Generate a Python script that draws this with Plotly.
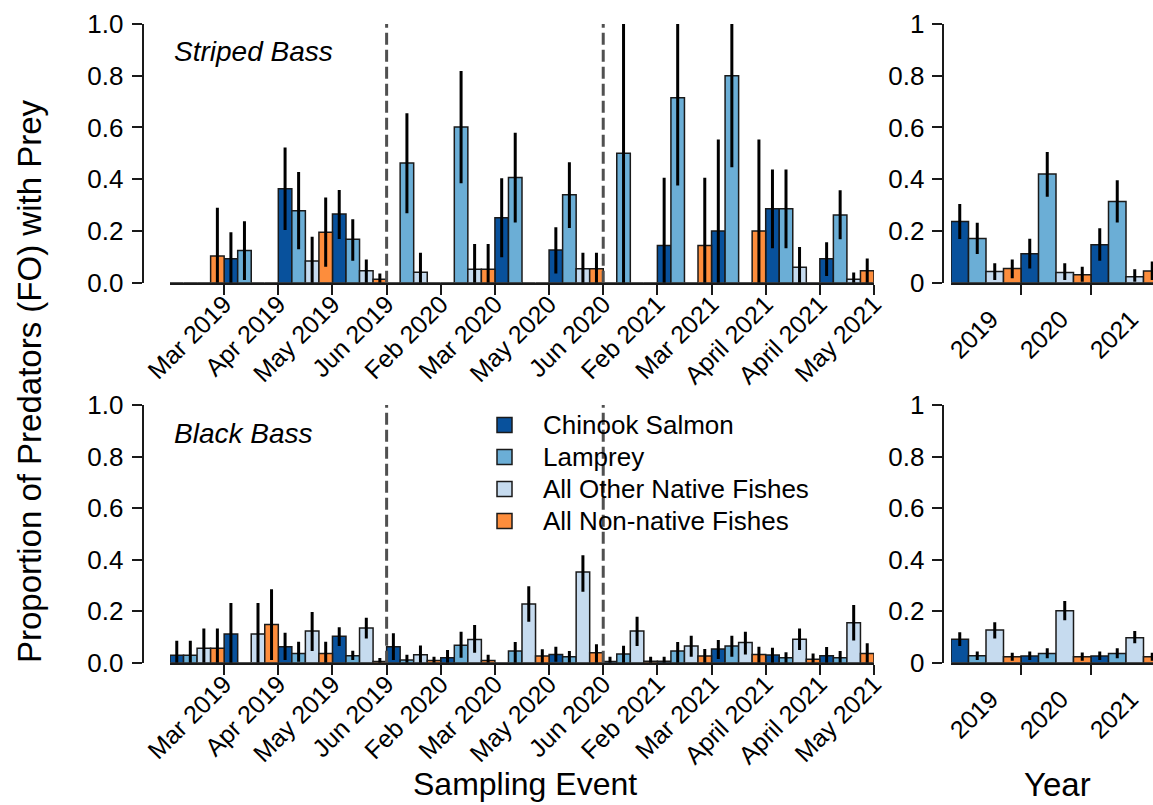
import plotly.graph_objects as go

# ---------------- data ----------------
events = ["Mar 2019", "Apr 2019", "May 2019", "Jun 2019", "Feb 2020", "Mar 2020",
          "May 2020", "Jun 2020", "Feb 2021", "Mar 2021", "April 2021", "April 2021", "May 2021"]
years = ["2019", "2020", "2021"]
categories = ["Chinook Salmon", "Lamprey", "All Other Native Fishes", "All Non-native Fishes"]
colors = ["#08519c", "#6baed6", "#c6dbef", "#fd8d3c"]

# Striped Bass, by sampling event (FO, lower CI, upper CI)
sb_chinook = [0, 0.093, 0.363, 0.266, 0, 0, 0.251, 0.126, 0, 0.144, 0.200, 0.286, 0.093]
sb_chinook_lo = [0, 0, 0.204, 0.169, 0, 0, 0.098, 0.036, 0, 0, 0, 0.133, 0.026]
sb_chinook_hi = [0, 0.195, 0.523, 0.358, 0, 0, 0.404, 0.214, 0, 0.406, 0.554, 0.438, 0.156]
sb_lamprey = [0, 0.124, 0.278, 0.168, 0.463, 0.602, 0.407, 0.340, 0.500, 0.715, 0.800, 0.286, 0.262]
sb_lamprey_lo = [0, 0.010, 0.129, 0.085, 0.268, 0.384, 0.233, 0.211, 0, 0.376, 0.446, 0.133, 0.168]
sb_lamprey_hi = [0, 0.238, 0.428, 0.245, 0.655, 0.818, 0.580, 0.466, 1.0, 1.0, 1.0, 0.438, 0.357]
sb_other = [0, 0, 0.084, 0.046, 0.040, 0.052, 0, 0.054, 0, 0, 0, 0.060, 0.013]
sb_other_lo = [0, 0, 0, 0, 0, 0, 0, 0, 0, 0, 0, 0, 0]
sb_other_hi = [0, 0, 0.178, 0.090, 0.116, 0.150, 0, 0.116, 0, 0, 0, 0.138, 0.039]
sb_nonnative = [0.103, 0, 0.195, 0.013, 0, 0.052, 0, 0.054, 0, 0.144, 0.200, 0, 0.046]
sb_nonnative_lo = [0, 0, 0.062, 0, 0, 0, 0, 0, 0, 0, 0, 0, 0]
sb_nonnative_hi = [0.290, 0, 0.329, 0.036, 0, 0.150, 0, 0.116, 0, 0.406, 0.554, 0, 0.094]

# Black Bass, by sampling event
bb_chinook = [0.029, 0.111, 0.062, 0.103, 0.062, 0.019, 0, 0.032, 0.005, 0.006, 0.053, 0.030, 0.027]
bb_chinook_lo = [0, 0, 0.010, 0.065, 0.010, 0, 0, 0.004, 0, 0, 0.014, 0, 0]
bb_chinook_hi = [0.085, 0.232, 0.116, 0.138, 0.114, 0.049, 0, 0.062, 0.023, 0.023, 0.088, 0.058, 0.061]
bb_lamprey = [0.029, 0, 0.036, 0.027, 0.010, 0.068, 0.045, 0.023, 0.034, 0.045, 0.065, 0.019, 0.019]
bb_lamprey_lo = [0, 0, 0.004, 0.010, 0, 0.019, 0, 0, 0, 0, 0.023, 0, 0]
bb_lamprey_hi = [0.085, 0, 0.081, 0.046, 0.031, 0.120, 0.080, 0.045, 0.066, 0.080, 0.105, 0.041, 0.045]
bb_other = [0.056, 0.111, 0.123, 0.135, 0.031, 0.090, 0.228, 0.352, 0.123, 0.065, 0.078, 0.091, 0.155]
bb_other_lo = [0, 0, 0.045, 0.094, 0, 0.039, 0.159, 0.275, 0.065, 0.023, 0.032, 0.049, 0.086]
bb_other_hi = [0.133, 0.232, 0.197, 0.174, 0.067, 0.146, 0.297, 0.417, 0.178, 0.105, 0.120, 0.133, 0.224]
bb_nonnative = [0.056, 0.148, 0.036, 0.005, 0.009, 0.009, 0.026, 0.039, 0.006, 0.026, 0.032, 0.013, 0.036]
bb_nonnative_lo = [0, 0.010, 0, 0, 0, 0, 0, 0, 0, 0, 0, 0, 0]
bb_nonnative_hi = [0.133, 0.285, 0.081, 0.018, 0.023, 0.031, 0.052, 0.072, 0.023, 0.053, 0.062, 0.036, 0.075]

# Striped Bass, by year
sby_chinook = [0.237, 0.112, 0.147]
sby_chinook_lo = [0.169, 0.055, 0.085]
sby_chinook_hi = [0.304, 0.170, 0.210]
sby_lamprey = [0.171, 0.420, 0.314]
sby_lamprey_lo = [0.111, 0.332, 0.233]
sby_lamprey_hi = [0.232, 0.505, 0.396]
sby_other = [0.043, 0.039, 0.023]
sby_other_lo = [0.010, 0.010, 0.004]
sby_other_hi = [0.075, 0.075, 0.052]
sby_nonnative = [0.055, 0.031, 0.045]
sby_nonnative_lo = [0.017, 0.004, 0.010]
sby_nonnative_hi = [0.090, 0.062, 0.082]

# Black Bass, by year
bby_chinook = [0.091, 0.026, 0.026]
bby_chinook_lo = [0.065, 0.010, 0.010]
bby_chinook_hi = [0.118, 0.043, 0.043]
bby_lamprey = [0.027, 0.036, 0.036]
bby_lamprey_lo = [0.010, 0.017, 0.017]
bby_lamprey_hi = [0.043, 0.056, 0.056]
bby_other = [0.127, 0.202, 0.097]
bby_other_lo = [0.094, 0.165, 0.075]
bby_other_hi = [0.157, 0.239, 0.123]
bby_nonnative = [0.023, 0.023, 0.023]
bby_nonnative_lo = [0.008, 0.008, 0.008]
bby_nonnative_hi = [0.039, 0.040, 0.039]

panels = [
    ("x", "y", [(sb_chinook, sb_chinook_lo, sb_chinook_hi), (sb_lamprey, sb_lamprey_lo, sb_lamprey_hi),
                (sb_other, sb_other_lo, sb_other_hi), (sb_nonnative, sb_nonnative_lo, sb_nonnative_hi)]),
    ("x2", "y2", [(bb_chinook, bb_chinook_lo, bb_chinook_hi), (bb_lamprey, bb_lamprey_lo, bb_lamprey_hi),
                  (bb_other, bb_other_lo, bb_other_hi), (bb_nonnative, bb_nonnative_lo, bb_nonnative_hi)]),
    ("x3", "y3", [(sby_chinook, sby_chinook_lo, sby_chinook_hi), (sby_lamprey, sby_lamprey_lo, sby_lamprey_hi),
                  (sby_other, sby_other_lo, sby_other_hi), (sby_nonnative, sby_nonnative_lo, sby_nonnative_hi)]),
    ("x4", "y4", [(bby_chinook, bby_chinook_lo, bby_chinook_hi), (bby_lamprey, bby_lamprey_lo, bby_lamprey_hi),
                  (bby_other, bby_other_lo, bby_other_hi), (bby_nonnative, bby_nonnative_lo, bby_nonnative_hi)]),
]

# ---------------- figure ----------------
W, H = 1153, 805
FONT = "Liberation Sans, Arial, Helvetica, sans-serif"
INK = "#1a1a1a"
NCAT = len(categories)


def fx(p):
    return p / W


def fy(p):
    return 1 - p / H


fig = go.Figure()
for xa, ya, series in panels:
    for ci, (vals, lo, hi) in enumerate(series):
        xs = [NCAT * g + ci + 0.5 for g in range(len(vals))]
        fig.add_trace(go.Bar(
            x=xs, y=vals, xaxis=xa, yaxis=ya, width=1, name=categories[ci], showlegend=False,
            marker=dict(color=colors[ci], line=dict(color=INK, width=1.5)),
            error_y=dict(type="data", symmetric=False,
                         array=[h - v for v, h in zip(vals, hi)],
                         arrayminus=[v - l for v, l in zip(vals, lo)],
                         color="black", thickness=3, width=0),
        ))

n_ev = len(events)
left_dom = [fx(170), fx(874)]
right_unit = 17.5
right_dom = [fx(951), 1.0]
top_dom = [fy(282.7), fy(24)]
bot_dom = [fy(662.7), fy(405)]

axis_common = dict(showgrid=False, zeroline=False, showline=True, linecolor=INK, linewidth=2,
                   ticks="outside", tickcolor=INK, tickwidth=2, fixedrange=True, automargin=False,
                   tickfont=dict(family=FONT, size=25, color="black"))

xleft = dict(axis_common, range=[0, NCAT * n_ev], domain=left_dom, tickmode="array",
             tickvals=[NCAT * (g + 1) for g in range(n_ev)], ticktext=events,
             tickangle=-45, ticklen=10, ticklabelstandoff=-15)
xright = dict(axis_common, range=[0, (W - 951) / right_unit], domain=right_dom, tickmode="array",
              tickvals=[NCAT * g + 2.29 for g in range(len(years))], ticktext=years,
              tickangle=-45, ticklen=25, tickcolor="rgba(0,0,0,0)", ticklabelstandoff=-15,
              minor=dict(tickmode="array", tickvals=[NCAT * (g + 1) for g in range(len(years) - 1)],
                         ticks="outside", ticklen=10, tickwidth=2, tickcolor=INK))
yticks = [0, 0.2, 0.4, 0.6, 0.8, 1.0]
yleft = dict(axis_common, range=[0, 1], anchor="free", position=fx(142.7), tickmode="array",
             tickvals=yticks, tickformat=".1f", ticklen=10, ticklabelstandoff=3,
             tickfont=dict(family=FONT, size=26, color="black"))
yright = dict(axis_common, range=[0, 1], anchor="free", position=fx(942.7), tickmode="array",
              tickvals=yticks, ticklen=10, ticklabelstandoff=2,
              tickfont=dict(family=FONT, size=26, color="black"))

fig.update_layout(
    width=W, height=H, margin=dict(l=0, r=0, t=0, b=0, autoexpand=False),
    paper_bgcolor="white", plot_bgcolor="white", barmode="overlay", showlegend=False,
    font=dict(family=FONT, color="black"),
    xaxis=dict(xleft, anchor="y"),
    yaxis=dict(yleft, domain=top_dom),
    xaxis2=dict(xleft, anchor="y2"),
    yaxis2=dict(yleft, domain=bot_dom),
    xaxis3=dict(xright, anchor="y3"),
    yaxis3=dict(yright, domain=top_dom),
    xaxis4=dict(xright, anchor="y4"),
    yaxis4=dict(yright, domain=bot_dom),
)

# dashed separators between years
shapes = []
for xr, yr in [("x", "y"), ("x2", "y2")]:
    for g in (4, 8):
        shapes.append(dict(type="line", xref=xr, yref=yr + " domain", x0=NCAT * g, x1=NCAT * g,
                           y0=0, y1=1, line=dict(color="#505050", width=3, dash="12px,5px")))

# manual legend
annotations = []
leg_rows = [425, 457, 489, 521]
for ci, cy in enumerate(leg_rows):
    shapes.append(dict(type="rect", xref="paper", yref="paper", x0=fx(497), x1=fx(512),
                       y0=fy(cy + 7.5), y1=fy(cy - 7.5),
                       fillcolor=colors[ci], line=dict(color=INK, width=1.5)))
    annotations.append(dict(text=categories[ci], xref="paper", yref="paper", x=fx(541), y=fy(cy),
                            xanchor="left", yanchor="middle", showarrow=False,
                            font=dict(family=FONT, size=26, color="black")))

annotations += [
    dict(text="<i>Striped Bass</i>", xref="paper", yref="paper", x=fx(172), y=fy(51),
         xanchor="left", yanchor="middle", showarrow=False, font=dict(family=FONT, size=28)),
    dict(text="<i>Black Bass</i>", xref="paper", yref="paper", x=fx(172), y=fy(433),
         xanchor="left", yanchor="middle", showarrow=False, font=dict(family=FONT, size=28)),
    dict(text="Proportion of Predators (FO) with Prey", xref="paper", yref="paper",
         x=fx(29), y=fy(381), textangle=-90, xanchor="center", yanchor="middle",
         showarrow=False, font=dict(family=FONT, size=33)),
    dict(text="Sampling Event", xref="paper", yref="paper", x=fx(525), y=fy(784),
         xanchor="center", yanchor="middle", showarrow=False, font=dict(family=FONT, size=32)),
    dict(text="Year", xref="paper", yref="paper", x=fx(1057), y=fy(784),
         xanchor="center", yanchor="middle", showarrow=False, font=dict(family=FONT, size=33)),
]

fig.update_layout(shapes=shapes, annotations=annotations)
fig.write_html("out.html")
